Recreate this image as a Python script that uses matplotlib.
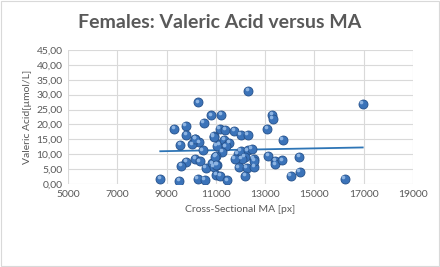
import matplotlib.pyplot as plt
import numpy as np
from matplotlib.ticker import FuncFormatter

plt.rcParams['font.family'] = ['Lato', 'DejaVu Sans']

# cross-sectional MA [px]
ma = [12325, 10280, 10805, 11222, 10509, 13295, 13311, 9311, 9780, 9796,
      11154, 11384, 11747, 12016, 12285, 13081, 13715, 10911, 10159, 10321,
      9554, 10038, 11141, 11343, 11545, 11396, 10467, 11263, 11008, 11897,
      12016, 12285, 12461, 12176, 12055, 11758, 13131, 13417, 13417, 13699,
      12542, 10159, 10346, 9808, 9606, 10589, 10859, 10911, 11061, 11921,
      12259, 12568, 12556, 14386, 11020, 11168, 12192, 14038, 8745, 9525,
      10265, 10547, 11465, 16960, 14414, 16232, 10172, 11032, 10923, 10980,
      11020]
# valeric acid [umol/L]
valeric = [31.3, 27.4, 23.0, 23.2, 20.6, 23.2, 21.8, 18.6, 19.6, 16.6,
           18.4, 18.1, 17.8, 16.6, 16.6, 18.5, 14.8, 16.1, 15.1, 14.0,
           13.2, 13.3, 13.3, 14.8, 13.7, 12.6, 11.3, 10.7, 9.4, 10.1,
           11.2, 11.3, 11.8, 9.2, 8.3, 8.4, 9.3, 7.7, 6.6, 7.9,
           8.3, 8.5, 7.6, 7.5, 6.1, 5.5, 6.9, 5.8, 6.5, 5.6,
           5.4, 5.8, 7.7, 9.2, 3.0, 2.7, 2.6, 2.8, 1.7, 1.1,
           1.6, 1.3, 1.2, 26.8, 4.1, 1.8, 15.2, 12.8, 15.9, 9.0,
           6.4]

x_ticks = [5000, 7000, 9000, 11000, 13000, 15000, 17000, 19000]
y_ticks = [0, 5, 10, 15, 20, 25, 30, 35, 40, 45]

fig = plt.figure(figsize=(4.4, 2.67), dpi=100)
ax = fig.add_axes([0.1545, 0.311, 0.7841, 0.5017])

grey = '#595959'
blue = '#3B73B9'

ax.scatter(ma, valeric, s=42, color=blue, edgecolor='#24508A', linewidth=0.6, zorder=3)
ax.scatter(np.array(ma) - 60, np.array(valeric) + 0.6, s=7, color='#8DB4E2',
           linewidth=0, zorder=4)

# linear trend line
k, d = np.polyfit(ma, valeric, 1)
xs = np.array([min(ma), max(ma)])
ax.plot(xs, k * xs + d, color='#2E75B6', linewidth=1.3, zorder=2)

ax.set_xlim(5000, 19000)
ax.set_ylim(0, 45)
ax.set_xticks(x_ticks)
ax.set_yticks(y_ticks)
ax.yaxis.set_major_formatter(FuncFormatter(lambda v, p: f'{v:.2f}'.replace('.', ',')))
ax.grid(True, color='#D9D9D9', linewidth=0.8)
ax.set_axisbelow(True)
for s in ax.spines.values():
    s.set_visible(False)
ax.tick_params(length=0, labelsize=7.5, colors=grey, pad=4)

ax.set_xlabel('Cross-Sectional MA [px]', fontsize=7.5, color=grey, labelpad=5)
ax.set_ylabel('Valeric Acid[µmol/L]', fontsize=7.5, color=grey, labelpad=3)
fig.text(0.5, 0.915, 'Females: Valeric Acid versus MA', ha='center', va='center',
         fontsize=14, fontweight='bold', color=grey)

fig.patches.append(plt.Rectangle((0.003, 0.005), 0.994, 0.99, transform=fig.transFigure,
                                 fill=False, edgecolor='#D9D9D9', linewidth=0.8))

fig.savefig('out.png', dpi=100)
